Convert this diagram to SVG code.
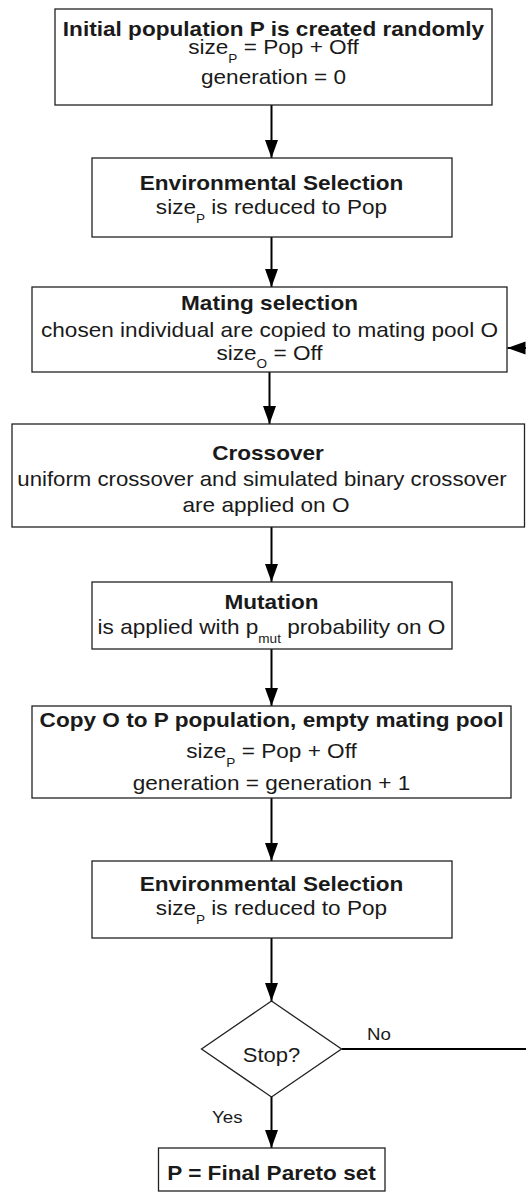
<svg xmlns="http://www.w3.org/2000/svg" width="526" height="1192" viewBox="0 0 526 1192">
<defs>
<style>
.box{fill:#fff;stroke:#222;stroke-width:1.3}
.con{fill:none;stroke:#000;stroke-width:2}
text{font-family:"Liberation Sans",Arial,Helvetica,sans-serif;fill:#1a1a1a;font-size:20px}
.t{font-weight:bold}
.c{text-anchor:middle}
.s{font-size:12px}
</style>
<marker id="ah" markerUnits="userSpaceOnUse" markerWidth="20" markerHeight="14" refX="18" refY="6.5" orient="auto">
<path d="M0,0 L18,6.5 L0,13 Z" fill="#000"/>
</marker>
</defs>
<rect width="526" height="1192" fill="#fff"/>
<g id="connectors">
<line class="con" x1="271.5" y1="105" x2="271.5" y2="158" marker-end="url(#ah)"/>
<line class="con" x1="271.5" y1="237" x2="271.5" y2="287" marker-end="url(#ah)"/>
<line class="con" x1="269.5" y1="372" x2="269.5" y2="424" marker-end="url(#ah)"/>
<line class="con" x1="271.5" y1="527" x2="271.5" y2="582" marker-end="url(#ah)"/>
<line class="con" x1="271.5" y1="649" x2="271.5" y2="706" marker-end="url(#ah)"/>
<line class="con" x1="271.5" y1="798" x2="271.5" y2="861" marker-end="url(#ah)"/>
<line class="con" x1="271.5" y1="938" x2="271.5" y2="1001" marker-end="url(#ah)"/>
<line class="con" x1="271.5" y1="1097" x2="271.5" y2="1148" marker-end="url(#ah)"/>
<line class="con" x1="341.5" y1="1049" x2="528" y2="1049"/>
<line class="con" x1="528" y1="348" x2="507.5" y2="348" marker-end="url(#ah)"/>
<text x="367" y="1040" transform="translate(367 1040) scale(1.1 1) translate(-367 -1040)" style="font-size:17px">No</text>
<text x="212" y="1123" transform="translate(212 1123) scale(1.1 1) translate(-212 -1123)" style="font-size:17px">Yes</text>
</g>
<g id="n1">
<rect class="box" x="55" y="9" width="437" height="96"/>
<text class="t c" transform="translate(273.5 36) scale(1.13 1)">Initial population P is created randomly</text>
<text class="c" transform="translate(273.5 53.5) scale(1.13 1)">size<tspan class="s" dy="9">P</tspan><tspan dy="-9"> = Pop + Off</tspan></text>
<text class="c" transform="translate(273.5 83.5) scale(1.13 1)">generation = 0</text>
</g>
<g id="n2">
<rect class="box" x="92" y="158" width="360" height="79"/>
<text class="t c" transform="translate(271.5 189.5) scale(1.13 1)">Environmental Selection</text>
<text class="c" transform="translate(271.5 214) scale(1.13 1)">size<tspan class="s" dy="9">P</tspan><tspan dy="-9"> is reduced to Pop</tspan></text>
</g>
<g id="n3">
<rect class="box" x="32" y="287" width="475" height="85"/>
<text class="t c" transform="translate(269.5 310) scale(1.13 1)">Mating selection</text>
<text class="c" transform="translate(269.5 336.5) scale(1.13 1)">chosen individual are copied to mating pool O</text>
<text class="c" transform="translate(269.5 360) scale(1.13 1)">size<tspan class="s" dy="8">O</tspan><tspan dy="-8"> = Off</tspan></text>
</g>
<g id="n4">
<rect class="box" x="12" y="424" width="512.5" height="103"/>
<text class="t c" transform="translate(268 459.5) scale(1.13 1)">Crossover</text>
<text class="c" transform="translate(262 486) scale(1.11 1)">uniform crossover and simulated binary crossover</text>
<text class="c" transform="translate(266 512) scale(1.13 1)">are applied on O</text>
</g>
<g id="n5">
<rect class="box" x="92" y="582" width="360" height="67"/>
<text class="t c" transform="translate(271.5 608.5) scale(1.13 1)">Mutation</text>
<text class="c" transform="translate(271.5 633.5) scale(1.13 1)">is applied with p<tspan class="s" dy="9">mut</tspan><tspan dy="-9"> probability on O</tspan></text>
</g>
<g id="n6">
<rect class="box" x="32" y="706" width="479" height="92"/>
<text class="t c" transform="translate(271.5 727) scale(1.13 1)">Copy O to P population, empty mating pool</text>
<text class="c" transform="translate(271.5 757.5) scale(1.13 1)">size<tspan class="s" dy="9">P</tspan><tspan dy="-9"> = Pop + Off</tspan></text>
<text class="c" transform="translate(271.5 790) scale(1.13 1)">generation = generation + 1</text>
</g>
<g id="n7">
<rect class="box" x="92" y="861" width="360" height="77"/>
<text class="t c" transform="translate(271.5 891) scale(1.13 1)">Environmental Selection</text>
<text class="c" transform="translate(271.5 915) scale(1.13 1)">size<tspan class="s" dy="9">P</tspan><tspan dy="-9"> is reduced to Pop</tspan></text>
</g>
<g id="n8">
<polygon class="box" points="271.5,1001 341.5,1049 271.5,1097 201.5,1049"/>
<text class="c" transform="translate(271.5 1062) scale(1.1 1)">Stop?</text>
</g>
<g id="n9">
<rect class="box" x="158.5" y="1148" width="226.5" height="43"/>
<text class="t c" transform="translate(271.5 1180) scale(1.13 1)">P = Final Pareto set</text>
</g>
</svg>
